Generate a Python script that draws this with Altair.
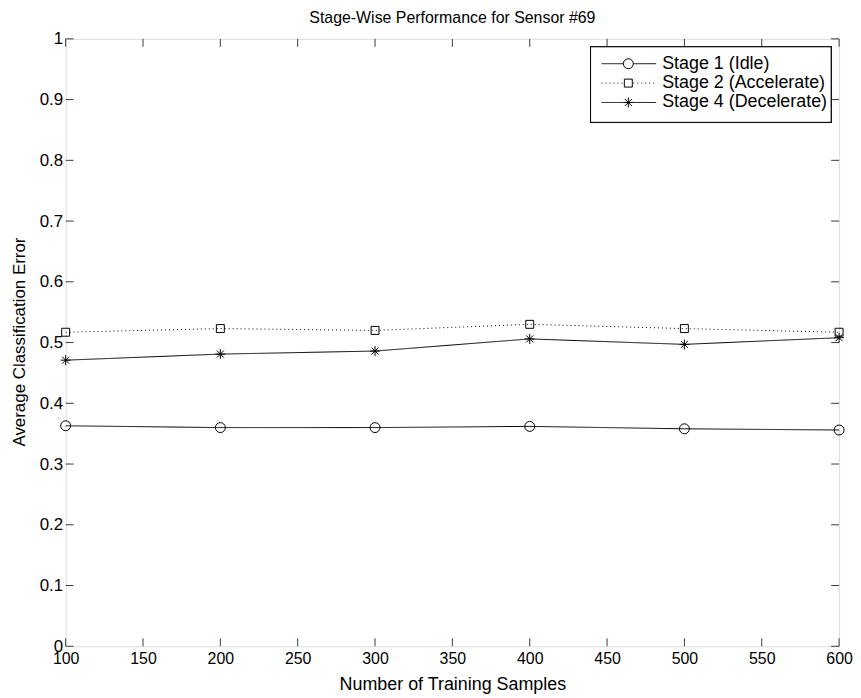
import altair as alt
import pandas as pd

# ---- data ----
samples = [100, 200, 300, 400, 500, 600]
stage1_idle = [0.363, 0.360, 0.360, 0.362, 0.358, 0.356]
stage2_accel = [0.517, 0.523, 0.520, 0.530, 0.523, 0.517]
stage4_decel = [0.471, 0.481, 0.486, 0.506, 0.497, 0.508]
series_names = ["Stage 1 (Idle)", "Stage 2 (Accelerate)", "Stage 4 (Decelerate)"]
x_ticks = [100, 150, 200, 250, 300, 350, 400, 450, 500, 550, 600]
y_ticks = [0, 0.1, 0.2, 0.3, 0.4, 0.5, 0.6, 0.7, 0.8, 0.9, 1.0]

W, H = 778, 611
FONT = "Liberation Sans"
INK = "#000000"
AXC = "#3a3a3a"
ASTERISK = "M0,-1L0,1M-1,0L1,0M-0.7,-0.7L0.7,0.7M-0.7,0.7L0.7,-0.7"

rows = []
for name, vals in zip(series_names, [stage1_idle, stage2_accel, stage4_decel]):
    for s, v in zip(samples, vals):
        rows.append({"series": name, "samples": s, "error": v})
df = pd.DataFrame(rows)

styles = {
    series_names[0]: dict(dash=[1, 0], shape="circle", size=100),
    series_names[1]: dict(dash=[1, 3], shape="square", size=64),
    series_names[2]: dict(dash=[1, 0], shape=ASTERISK, size=100),
}

xs = alt.Scale(domain=[100, 600], nice=False, zero=False)
ys = alt.Scale(domain=[0, 1], nice=False, zero=False)

x_axis = alt.Axis(values=x_ticks, grid=False, ticks=False, domain=False, labelFlush=False,
                  labelFont=FONT, labelFontSize=16, labelColor=INK, labelPadding=4,
                  title="Number of Training Samples", titleFont=FONT, titleFontSize=18,
                  titleFontWeight="normal", titleColor=INK, titleBaseline="alphabetic",
                  titleX=W / 2, titleY=44)
y_axis = alt.Axis(values=y_ticks, grid=False, ticks=False, domain=False, labelFlush=False,
                  format=".1~f", labelFont=FONT, labelFontSize=17, labelColor=INK, labelPadding=3,
                  title="Average Classification Error", titleFont=FONT, titleFontSize=17,
                  titleFontWeight="normal", titleColor=INK, titleBaseline="alphabetic",
                  titleAngle=-90, titleX=-41, titleY=H / 2 - 1)

base = alt.Chart(df)
layers = []

# inward ticks (MATLAB box style)
xt = pd.DataFrame({"t": x_ticks})
yt = pd.DataFrame({"t": y_ticks})
layers.append(alt.Chart(xt).mark_rule(color=AXC, strokeWidth=1).encode(
    x=alt.X("t:Q", scale=xs, axis=x_axis), y=alt.value(H), y2=alt.value(H - 8)))
layers.append(alt.Chart(xt).mark_rule(color=AXC, strokeWidth=1).encode(
    x=alt.X("t:Q", scale=xs), y=alt.value(0), y2=alt.value(8)))
layers.append(alt.Chart(yt).mark_rule(color=AXC, strokeWidth=1).encode(
    y=alt.Y("t:Q", scale=ys, axis=y_axis), x=alt.value(0), x2=alt.value(8)))
layers.append(alt.Chart(yt).mark_rule(color=AXC, strokeWidth=1).encode(
    y=alt.Y("t:Q", scale=ys), x=alt.value(W), x2=alt.value(W - 8)))

for name in series_names:
    st = styles[name]
    sub = base.transform_filter(alt.datum.series == name)
    layers.append(sub.mark_line(color=INK, strokeWidth=1, strokeDash=st["dash"]).encode(
        x=alt.X("samples:Q", scale=xs), y=alt.Y("error:Q", scale=ys)))
    layers.append(sub.mark_point(shape=st["shape"], size=st["size"], filled=False,
                                 color=INK, strokeWidth=1, opacity=1).encode(
        x=alt.X("samples:Q", scale=xs), y=alt.Y("error:Q", scale=ys)))

# legend box (drawn manually, MATLAB style)
LX0, LX1, LY0, LY1 = 528, 770, 8, 84
layers.append(alt.Chart(df).mark_rect(fill="white", stroke=INK, strokeWidth=1).encode(
    x=alt.value(LX0), x2=alt.value(LX1), y=alt.value(LY0), y2=alt.value(LY1)))
row_y = [25, 44.5, 64]
for name, ry in zip(series_names, row_y):
    st = styles[name]
    one = alt.Chart(pd.DataFrame({"label": [name]}))
    layers.append(one.mark_rule(color=INK, strokeWidth=1, strokeDash=st["dash"]).encode(
        x=alt.value(539), x2=alt.value(594), y=alt.value(ry)))
    layers.append(one.mark_point(shape=st["shape"], size=st["size"], filled=False,
                                 color=INK, strokeWidth=1, opacity=1, fill="white").encode(
        x=alt.value(566), y=alt.value(ry)))
    layers.append(one.mark_text(align="left", baseline="middle", font=FONT, fontSize=18,
                                color=INK).encode(
        x=alt.value(600), y=alt.value(ry), text="label:N"))

chart = alt.layer(*layers).properties(
    width=W, height=H,
    title=alt.TitleParams("Stage-Wise Performance for Sensor #69", font=FONT, fontSize=16,
                          fontWeight="normal", color=INK, anchor="middle", frame="group",
                          offset=4),
    autosize=alt.AutoSizeParams(type="none"),
    padding={"left": 58, "top": 29, "right": 14, "bottom": 48},
).configure_view(stroke=AXC, strokeWidth=1).configure(background="white")

chart.save("out.html", embed_options={"renderer": "svg", "actions": False})
